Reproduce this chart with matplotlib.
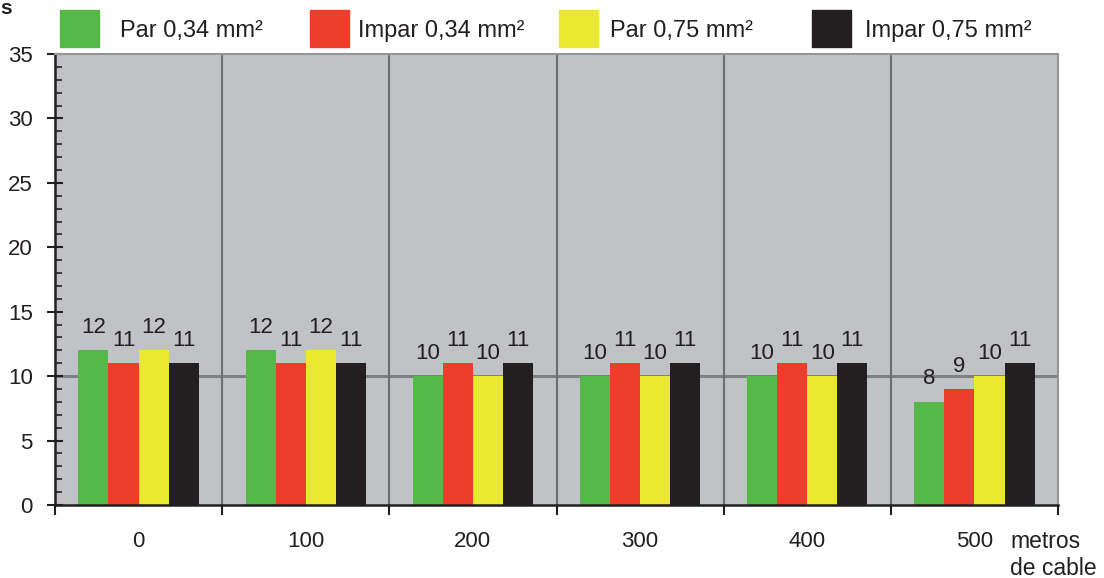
import matplotlib
matplotlib.use("Agg")
import matplotlib.pyplot as plt
from matplotlib.patches import Rectangle
import numpy as np

plt.rcParams['font.family'] = ['Liberation Sans', 'DejaVu Sans']

categories = ['0', '100', '200', '300', '400', '500']
series_names = ['Par 0,34 mm²', 'Impar 0,34 mm²', 'Par 0,75 mm²', 'Impar 0,75 mm²']
par_034 = [12, 12, 10, 10, 10, 8]
impar_034 = [11, 11, 11, 11, 11, 9]
par_075 = [12, 12, 10, 10, 10, 10]
impar_075 = [11, 11, 11, 11, 11, 11]
series = [par_034, impar_034, par_075, impar_075]
colors = ['#55B848', '#EE3E2B', '#ECE82F', '#231F20']
yticks = [0, 5, 10, 15, 20, 25, 30, 35]

fig = plt.figure(figsize=(11.04, 5.78), dpi=100)
ax = fig.add_axes([55/1104, 1-505/578, (1058-55)/1104, (505-54)/578])
ax.set_facecolor('#C1C2C6')

x = np.arange(len(categories))
w = 0.18
offs = [-1.5, -0.5, 0.5, 1.5]
ax.axhline(10, color='#808184', lw=2.2, zorder=1)
for b in np.arange(0.5, len(categories) - 0.5, 1):
    ax.axvline(b, color='#6D6E71', lw=1.5, zorder=1)
for s, c, o in zip(series, colors, offs):
    ax.bar(x + o * w, s, width=w, color=c, zorder=2, linewidth=0)
    for xi, v in zip(x, s):
        ax.annotate(str(v), (xi + o * w, v), xytext=(0, 9), textcoords='offset points',
                    ha='center', va='bottom', fontsize=16, color='#231F20')

ax.set_xlim(-0.5, len(categories) - 0.5)
ax.set_ylim(0, 35)
ax.set_yticks(yticks)
ax.set_yticks(np.arange(0, 36, 1), minor=True)
ax.tick_params(axis='y', which='major', direction='inout', length=12, width=1.5,
               labelsize=16, color='#231F20', labelcolor='#231F20', pad=10)
ax.tick_params(axis='y', which='minor', direction='in', length=5, width=1.2,
               color='#231F20')
ax.set_xticks(np.arange(-0.5, len(categories), 1))
ax.set_xticklabels([''] * (len(categories) + 1))
ax.set_xticks(x, minor=True)
ax.set_xticklabels(categories, minor=True)
ax.tick_params(axis='x', which='minor', length=0, labelsize=16, pad=19,
               labelcolor='#231F20')
ax.tick_params(axis='x', which='major', direction='out', length=7, width=1.5,
               color='#231F20')

for sp in ['left', 'bottom']:
    ax.spines[sp].set_color('#231F20')
    ax.spines[sp].set_linewidth(1.8)
for sp in ['top', 'right']:
    ax.spines[sp].set_color('#939598')
    ax.spines[sp].set_linewidth(1.5)

fig.text(1010/1104, 1-530/578, 'metros\nde cable', ha='left', va='top',
         fontsize=16.5, color='#231F20', linespacing=1.2)
fig.text(0, 1-8/578, 's', ha='left', va='center', fontsize=15,
         fontweight='bold', color='#231F20')

# legend
leg_sq = [60, 310, 559, 812]
leg_tx = [120, 358, 610, 865]
for sx, tx, name, c in zip(leg_sq, leg_tx, series_names, colors):
    fig.patches.append(Rectangle((sx/1104, 1-47/578), 39/1104, 37/578,
                                 transform=fig.transFigure, color=c))
    fig.text(tx/1104, 1-36.5/578, name, ha='left', va='baseline',
             fontsize=17, color='#231F20')

fig.savefig('out.png', dpi=100)
